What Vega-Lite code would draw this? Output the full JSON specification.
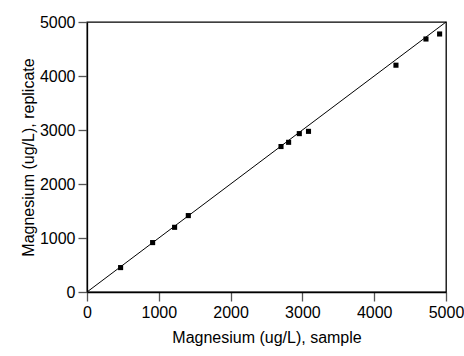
{
  "$schema": "https://vega.github.io/schema/vega-lite/v6.json",
  "width": 359,
  "height": 270,
  "autosize": {"type": "none"},
  "padding": {"left": 87, "top": 22, "right": 18, "bottom": 64},
  "background": "white",
  "config": {
    "view": {"stroke": "#000", "strokeWidth": 1.3},
    "font": "Liberation Sans",
    "axis": {
      "grid": false,
      "domainColor": "#000",
      "domainWidth": 1.3,
      "tickColor": "#555",
      "tickWidth": 1.3,
      "tickSize": 9,
      "labelFont": "Liberation Sans",
      "labelFontSize": 16,
      "labelColor": "#000",
      "titleFont": "Liberation Sans",
      "titleFontSize": 16,
      "titleFontWeight": "normal",
      "titleColor": "#000"
    }
  },
  "layer": [
    {
      "data": {"values": [{"x": 0, "y": 0, "x2": 5000, "y2": 5000}]},
      "mark": {"type": "rule", "color": "#000", "strokeWidth": 1},
      "encoding": {
        "x": {"field": "x", "type": "quantitative"},
        "y": {"field": "y", "type": "quantitative"},
        "x2": {"field": "x2"},
        "y2": {"field": "y2"}
      }
    },
    {
      "data": {"values": [
        {"sample": 468, "replicate": 452},
        {"sample": 914, "replicate": 915},
        {"sample": 1220, "replicate": 1198},
        {"sample": 1411, "replicate": 1415},
        {"sample": 2702, "replicate": 2694},
        {"sample": 2808, "replicate": 2772},
        {"sample": 2957, "replicate": 2933},
        {"sample": 3085, "replicate": 2975},
        {"sample": 4303, "replicate": 4200},
        {"sample": 4721, "replicate": 4685},
        {"sample": 4911, "replicate": 4778}
      ]},
      "mark": {"type": "point", "shape": "square", "filled": true, "color": "#000", "size": 26, "opacity": 1},
      "encoding": {
        "x": {
          "field": "sample", "type": "quantitative",
          "scale": {"domain": [0, 5000], "nice": false},
          "axis": {"title": "Magnesium (ug/L), sample", "values": [0, 1000, 2000, 3000, 4000, 5000], "format": "d", "titlePadding": 9, "labelPadding": 3, "labelFlush": false}
        },
        "y": {
          "field": "replicate", "type": "quantitative",
          "scale": {"domain": [0, 5000], "nice": false},
          "axis": {"title": "Magnesium (ug/L), replicate", "values": [0, 1000, 2000, 3000, 4000, 5000], "format": "d", "titlePadding": 3, "labelPadding": 3, "labelFlush": false}
        }
      }
    }
  ]
}
